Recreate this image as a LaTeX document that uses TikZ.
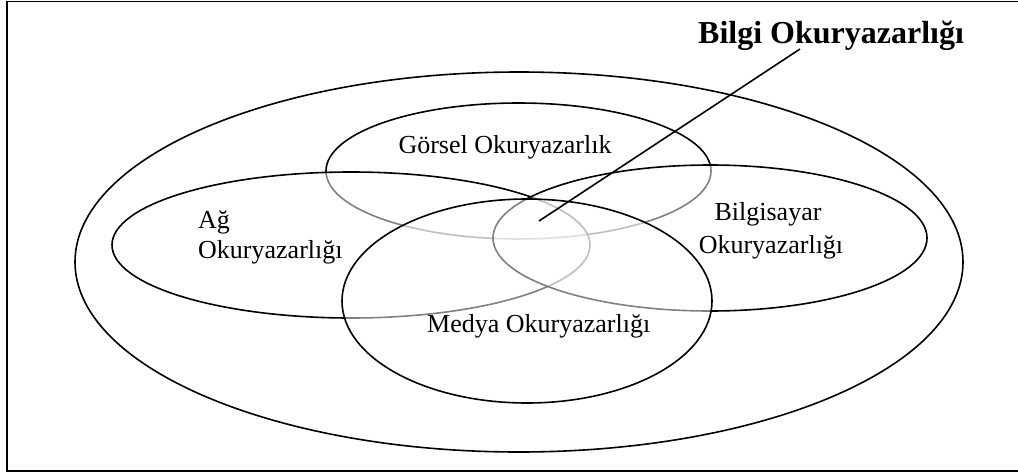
\documentclass[tikz,border=0pt]{standalone}
\usepackage{fontspec}
\setmainfont{Liberation Serif}
\begin{document}
\begin{tikzpicture}[x=1pt,y=-1pt,
  ring/.style={draw=black,line width=1.6pt,fill=white,fill opacity=0.5},
  lbl/.style={inner sep=0pt,font=\fontsize{26}{30}\selectfont},
  ttl/.style={inner sep=0pt,font=\fontsize{32}{36}\selectfont\bfseries}]
\useasboundingbox (0,0) rectangle (1018,472);
\begin{scope}
\clip (0,0) rectangle (1018,472);
\draw[line width=1.6pt] (7,1.5) rectangle (1030,471);
\end{scope}
% outer ellipse
\draw[line width=1.6pt] (519,262) ellipse [x radius=444, y radius=190];
% inner ellipses, in drawing order
\path[ring] (518.5,171) ellipse [x radius=192.5, y radius=68];
\path[ring] (351,245) ellipse [x radius=239, y radius=73];
\path[ring] (710,238) ellipse [x radius=217, y radius=73];
\path[ring] (527,301) ellipse [x radius=185, y radius=102];
% labels
\node[lbl,anchor=base] (gorsel) at (505,153) {Görsel Okuryazarlık};
\node[lbl,anchor=base west] (ag1) at (198,228) {Ağ};
\node[lbl,anchor=base west] (ag2) at (198,258) {Okuryazarlığı};
\node[lbl,anchor=base] (bil1) at (768,220) {Bilgisayar};
\node[lbl,anchor=base] (bil2) at (771,253) {Okuryazarlığı};
\node[lbl,anchor=base west] (medya) at (427,332) {Medya Okuryazarlığı};
\node[ttl,anchor=base west] (title) at (698,43) {Bilgi Okuryazarlığı};
% pointer line
\coordinate (pb) at (539,221);
\coordinate (pt) at (800,49);
\draw[line width=1.6pt] (pb) -- (pt);
\end{tikzpicture}
\end{document}
